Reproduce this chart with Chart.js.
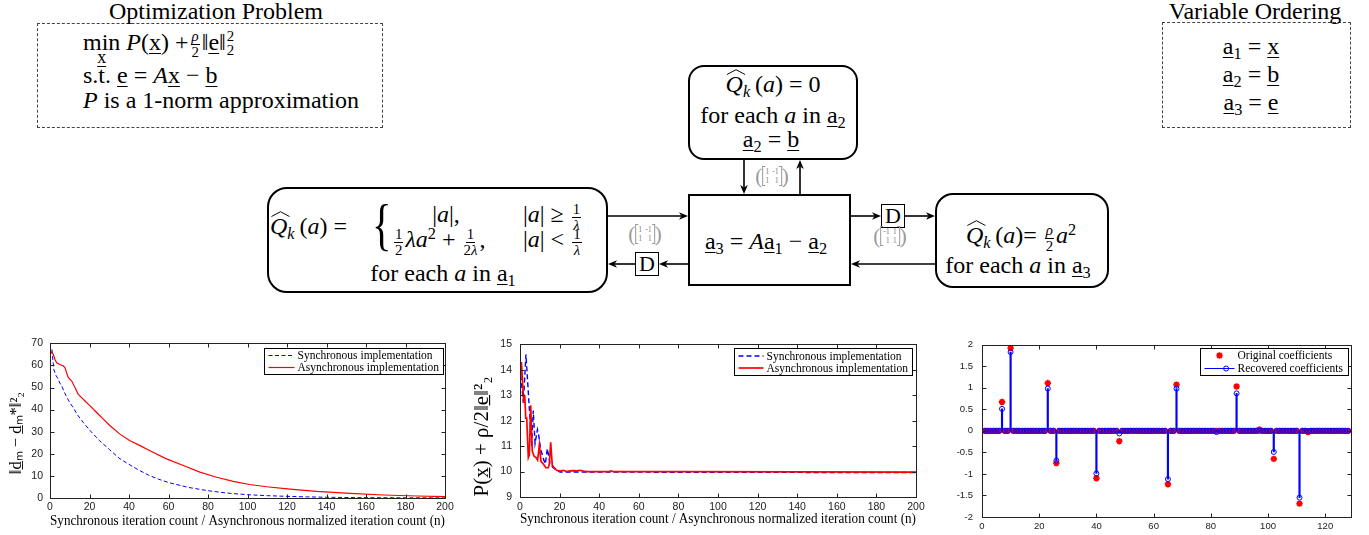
<!DOCTYPE html>
<html>
<head>
<meta charset="utf-8">
<title>Asynchronous ADMM diagram and results</title>
<script src="https://cdn.jsdelivr.net/npm/chart.js@4.4.1/dist/chart.umd.min.js"></script>
<style>
  html, body { margin: 0; padding: 0; background: #fff; }
  #fig { position: relative; width: 1369px; height: 535px; overflow: hidden;
         font-family: "Liberation Serif", "Times New Roman", serif; color: #000; }
  .t { position: absolute; white-space: nowrap; }
  .bl { display: inline-block; width: 0; height: 0; }
  .dash { position: absolute; box-sizing: border-box; border: 1px dashed #444; }
  .box { position: absolute; box-sizing: border-box; border: 2px solid #000; background: #fff; }
  .dbox { position: absolute; box-sizing: border-box; border: 1.5px solid #000; width: 24px; height: 24px;
          font-size: 22px; line-height: 21px; text-align: center; background: #fff; }
  u { text-decoration: underline; text-decoration-thickness: 1px; text-underline-offset: 3px; }
  sub { font-size: 68%; vertical-align: -0.3em; line-height: 0; }
  sup { font-size: 68%; vertical-align: 0.5em; line-height: 0; }
  .ss { display: inline-flex; flex-direction: column; font-size: 62%; line-height: 0.95; vertical-align: 0.6em; margin-left: 1px; }
  .fr { display: inline-flex; flex-direction: column; align-items: center; font-size: 62%; line-height: 1;
        vertical-align: 0.57em; margin: 0 2px; }
  .fr > span:first-child { border-bottom: 1px solid #000; padding: 0 1px; }
  .hat { position: relative; display: inline-block; }
  .hat::before { content: ""; position: absolute; left: 1px; right: -3px; top: -3px; height: 6px;
    background: url("data:image/svg+xml,%3Csvg xmlns='http://www.w3.org/2000/svg' viewBox='0 0 20 6' preserveAspectRatio='none'%3E%3Cpolyline points='0.5,5.5 10,0.7 19.5,5.5' fill='none' stroke='black' stroke-width='1'/%3E%3C/svg%3E") no-repeat;
    background-size: 100% 100%; }
  .mn { position: relative; display: inline-block; }
  .us { position: absolute; left: 50%; transform: translateX(-50%); top: 18px; font-size: 18px; line-height: 18px; }
  .mlab { position: absolute; color: #999; display: flex; align-items: center; transform: translate(-50%, -50%); }
  .mlab .p { font-size: 21px; line-height: 22px; font-weight: 300; }
  .mat { display: inline-grid; grid-template-columns: auto auto; column-gap: 3px; font-size: 8px; line-height: 9px;
         padding: 1px 3px; position: relative; text-align: right; color: #888; }
  .mat::before, .mat::after { content: ""; position: absolute; top: 0; bottom: 0; width: 2px; border: 0.8px solid #999; }
  .mat::before { left: 0; border-right: none; }
  .mat::after { right: 0; border-left: none; }
  canvas { position: absolute; top: 330px; }
  svg { position: absolute; left: 0; top: 0; }
</style>
</head>
<body>
<div id="fig">
  <div class="dash" style="left:37px;top:23px;width:346px;height:105px"></div>
  <div class="dash" style="left:1162px;top:22px;width:189px;height:106px"></div>
  <div class="box" style="left:688px;top:65px;width:170px;height:95px;border-radius:16px"></div>
  <div class="box" style="left:688px;top:194px;width:163px;height:92px;border-width:2.5px"></div>
  <div class="box" style="left:267px;top:187px;width:341px;height:106px;border-radius:20px"></div>
  <div class="box" style="left:935px;top:193px;width:174px;height:95px;border-radius:18px"></div>
  <svg id="arrows" width="1369" height="330"></svg>
  <div class="dbox" style="left:635px;top:252px">D</div>
  <div class="dbox" style="left:881px;top:204px">D</div>
  <canvas id="c1" width="460" height="205" style="left:0px"></canvas>
  <canvas id="c2" width="480" height="205" style="left:460px"></canvas>
  <canvas id="c3" width="429" height="205" style="left:940px"></canvas>
</div>
<script>
// ---- data ----
const iterTicks = [0, 20, 40, 60, 80, 100, 120, 140, 160, 180, 200];
const distTicks = [0, 10, 20, 30, 40, 50, 60, 70];
const costTicks = [9, 10, 11, 12, 13, 14, 15];
const coefTicksX = [0, 20, 40, 60, 80, 100, 120];
const coefTicksY = [-2, -1.5, -1, -0.5, 0, 0.5, 1, 1.5, 2];

const seriesNames = ['Synchronous implementation', 'Asynchronous implementation'];
const coefNames = ['Original coefficients', 'Recovered coefficients'];
const xTitle = 'Synchronous iteration count / Asynchronous normalized iteration count (n)';
// trailing spaces push the rotated label down a little, as in the original
const distTitle = '\u2016d\u0332\u2098 \u2212 d\u0332\u2098*\u2016\u00b2\u2082\u2003\u2002';
const costTitle = 'P(x\u0332) + \u03c1/2\u2016e\u0332\u2016\u00b2\u2082\u2003\u2002';

// left plot: squared distance to the optimum
const syncIterA = [1, 1.5, 2, 3, 4, 5, 6, 7, 8, 10, 12, 14, 17, 20, 25, 30, 35, 40, 45, 50,
                   55, 60, 70, 80, 90, 100, 110, 120, 130, 140, 150, 160, 180, 200];
const syncDist = [67.2, 62, 58, 55.5, 54, 52, 50.5, 48.5, 46.5, 43.2, 40.5, 37.5, 34, 30.8, 26, 22, 18, 15.2, 12.6, 10.3,
                  8.5, 7.0, 4.8, 3.3, 2.2, 1.5, 1.05, 0.75, 0.5, 0.35, 0.22, 0.15, 0.08, 0.04];
const asyncIterA = [0, 0.8, 1.7, 2.5, 3.4, 5, 6.8, 7.6, 8.4, 9.3, 11, 12.7, 14.3, 16, 17.7, 20.3, 23.6, 27, 30.4, 35.4,
                    40.5, 45.6, 50.6, 59, 67.5, 75.9, 84.4, 92.8, 101, 109.7, 121.5, 135, 152, 168.8, 185.7, 200];
const asyncDist = [67.9, 65.7, 65, 62.7, 61.2, 60.4, 59.7, 58.9, 56.7, 54.4, 52.9, 49.9, 46.9, 45.4, 43.9, 41.7, 38.7, 35.7, 32.7, 28.9,
                   25.9, 23.7, 21.4, 17.7, 14.7, 11.7, 9.4, 7.5, 6.1, 5.1, 4.0, 3.0, 2.1, 1.35, 0.9, 0.6];

// middle plot: objective value
const syncIterB = [0, 1.7, 3, 5.9, 6.7, 7.6, 8.8, 9.4, 10.4, 11.8, 12.8, 13.8, 15.2, 16.8, 18.5, 20.2, 40, 100, 200];
const syncCost = [14.1, 12.7, 14.6, 11.0, 12.4, 11.1, 11.65, 11.45, 10.9, 10.5, 10.3, 10.9, 10.3, 10.15, 10.05, 9.98, 9.98, 9.97, 9.96];
const asyncIterB = [0, 0.7, 1.3, 1.9, 2.4, 2.9, 3.4, 4.2, 4.7, 5.4, 6.2, 7.1, 8.1, 8.9, 9.8, 10.6, 11.8, 13.1, 14.3, 14.8,
                    15.5, 16.3, 17.3, 18.5, 20.2, 21.9, 23.6, 25.3, 27, 28.6, 30.3, 32, 33.7, 45, 46, 47, 80, 140, 200];
const asyncCost = [13.7, 14.3, 13.5, 12.7, 13.0, 12.1, 12.1, 10.55, 10.65, 12.6, 10.8, 10.6, 10.55, 10.45, 11.05, 10.4, 10.3, 10.15, 10.15, 10.3,
                   11.15, 10.25, 10.15, 10.05, 10.02, 10.05, 10.0, 10.03, 10.04, 10.03, 10.05, 10.02, 10.0, 10.0, 10.03, 10.0, 10.0, 9.99, 9.98];

// right plot: sparse coefficients (all other entries are zero)
const coefCount = 128;
const origIdx = [7, 10, 23, 26, 40, 48, 65, 68, 89, 97, 102, 111, 114];
const origVal = [0.67, 1.92, 1.11, -0.75, -1.1, -0.24, -1.24, 1.07, 1.03, 0.03, -0.65, -1.69, -0.03];
const recIdx = [7, 10, 23, 26, 40, 48, 65, 68, 82, 89, 102, 111];
const recVal = [0.51, 1.83, 0.98, -0.69, -0.99, -0.06, -1.12, 0.98, -0.03, 0.87, -0.49, -1.55];

// ---- diagram ----
const fig = document.getElementById('fig');

function put(html, x, base, size, align, extra) {
  const d = document.createElement('div');
  d.className = 't';
  d.style.fontSize = size + 'px';
  d.style.lineHeight = size + 'px';
  d.innerHTML = '<span class="bl"></span>' + html;
  fig.appendChild(d);
  const off = d.querySelector('.bl').offsetTop;
  d.style.left = x + 'px';
  d.style.top = (base - off) + 'px';
  let tf = align === 'c' ? 'translateX(-50%)' : '';
  if (extra) tf += ' ' + extra;
  d.style.transform = tf;
  return d;
}
function mlab(cx, cy, m) {
  const d = document.createElement('div');
  d.className = 'mlab';
  d.style.left = cx + 'px';
  d.style.top = cy + 'px';
  d.innerHTML = '<span class="p">(</span><span class="mat">' + m.map(v => '<span>' + v + '</span>').join('') +
                '</span><span class="p">)</span>';
  fig.appendChild(d);
}

const ul = s => '<u>' + s + '</u>';
const av = n => ul('a') + '<sub>' + n + '</sub>';
const fr = (n, d) => '<span class="fr"><span>' + n + '</span><span>' + d + '</span></span>';
const ss = '<span class="ss"><span>2</span><span>2</span></span>';
const Qk = '<span class="hat"><i>Q</i></span><sub><i>k</i></sub>&thinsp;(<i>a</i>)';

put('Optimization Problem', 216, 19, 24, 'c');
put('<span class="mn">min<span class="us">' + ul('x') + '</span></span> <i>P</i>(' + ul('x') + ') +' +
    fr('<i>ρ</i>', '2') + '‖' + ul('e') + '‖' + ss, 83, 50, 24);
put('s.t. ' + ul('e') + ' = <i>A</i>' + ul('x') + ' − ' + ul('b'), 83, 83, 24);
put('<i>P</i> is a 1-norm approximation', 83, 108, 24);

put('Variable Ordering', 1255, 19, 24, 'c');
put(av(1) + ' = ' + ul('x'), 1251, 54, 24, 'c');
put(av(2) + ' = ' + ul('b'), 1251, 82, 24, 'c');
put(av(3) + ' = ' + ul('e'), 1251, 110, 24, 'c');

put(Qk + ' = 0', 773, 92, 24, 'c');
put('for each <i>a</i> in ' + av(2), 773, 123, 24, 'c');
put(av(2) + ' = ' + ul('b'), 771, 147, 24, 'c');

put(av(3) + ' = <i>A</i>' + av(1) + ' − ' + av(2), 766, 249, 24, 'c');

put(Qk + ' =', 270, 234, 24);
const br = put('{', 372, 244, 58, null, 'scaleX(0.7)');
br.style.transformOrigin = 'left';
put('|<i>a</i>|,', 446, 222, 24, 'c');
put('|<i>a</i>| ≥ ' + fr('1', '<i>λ</i>'), 523, 222, 24);
put(fr('1', '2') + '<i>λa</i><sup>2</sup> + ' + fr('1', '2<i>λ</i>') + ',', 392, 247, 24);
put('|<i>a</i>| &lt; ' + fr('1', '<i>λ</i>'), 523, 247, 24);
put('for each <i>a</i> in ' + av(1), 443, 281, 24, 'c');

put(Qk + '= ' + fr('<i>ρ</i>', '2') + '<i>a</i><sup>2</sup>', 1021, 243, 24, 'c');
put('for each <i>a</i> in ' + av(3), 1018, 273, 24, 'c');

mlab(772, 176, ['1', '-1', '1', '1']);
mlab(645, 234, ['1', '-1', '1', '1']);
mlab(890, 236, ['-1', '1', '1', '1']);

const svg = document.getElementById('arrows');
const NS = 'http://www.w3.org/2000/svg';
function arrow(x1, y1, x2, y2) {
  const len = Math.hypot(x2 - x1, y2 - y1), ux = (x2 - x1) / len, uy = (y2 - y1) / len;
  const hl = 9, hw = 3.8, nb = 2.5;
  const bx = x2 - ux * (hl - nb), by = y2 - uy * (hl - nb);
  const ln = document.createElementNS(NS, 'line');
  ln.setAttribute('x1', x1); ln.setAttribute('y1', y1);
  ln.setAttribute('x2', bx); ln.setAttribute('y2', by);
  ln.setAttribute('stroke', '#000'); ln.setAttribute('stroke-width', '1.6');
  svg.appendChild(ln);
  const hx = x2 - ux * hl, hy = y2 - uy * hl;
  const pg = document.createElementNS(NS, 'polygon');
  pg.setAttribute('points', [[x2, y2], [hx - uy * hw, hy + ux * hw], [bx, by], [hx + uy * hw, hy - ux * hw]]
    .map(p => p.join(',')).join(' '));
  pg.setAttribute('fill', '#000');
  svg.appendChild(pg);
}
arrow(744, 160, 744, 194);
arrow(800, 194, 800, 160);
arrow(608, 216, 688, 216);
arrow(688, 264, 659, 264);
arrow(635, 264, 608, 264);
arrow(851, 216, 881, 216);
arrow(905, 216, 935, 216);
arrow(935, 264, 851, 264);

// ---- charts ----
const pts = (xs, ys) => xs.map((x, i) => ({ x: x, y: ys[i] }));
const fullSeries = (idx, val) => Array.from({ length: coefCount }, (_, k) => {
  const j = idx.indexOf(k + 1);
  return { x: k + 1, y: j < 0 ? 0 : val[j] };
});
const serif = '"Liberation Serif", serif';

// box with inward tick marks on all four sides, like the original plots
const framePlugin = {
  id: 'frame',
  afterDatasetsDraw(chart) {
    const { ctx, chartArea: a, scales } = chart;
    const L = 4;
    ctx.save();
    ctx.strokeStyle = '#222';
    ctx.lineWidth = 1;
    ctx.setLineDash([]);
    const l = Math.round(a.left) + 0.5, t = Math.round(a.top) + 0.5;
    const r = Math.round(a.right) + 0.5, b = Math.round(a.bottom) + 0.5;
    ctx.strokeRect(l, t, r - l, b - t);
    ctx.beginPath();
    scales.x.ticks.forEach(tk => {
      const p = Math.round(scales.x.getPixelForValue(tk.value)) + 0.5;
      ctx.moveTo(p, b); ctx.lineTo(p, b - L);
      ctx.moveTo(p, t); ctx.lineTo(p, t + L);
    });
    scales.y.ticks.forEach(tk => {
      const p = Math.round(scales.y.getPixelForValue(tk.value)) + 0.5;
      ctx.moveTo(l, p); ctx.lineTo(l + L, p);
      ctx.moveTo(r, p); ctx.lineTo(r - L, p);
    });
    ctx.stroke();
    ctx.restore();
  }
};

// legend drawn in a box inside the plot, top right
const boxLegend = {
  id: 'boxLegend',
  afterDraw(chart, args, o) {
    const ctx = chart.ctx, area = chart.chartArea;
    const items = chart.data.datasets.filter(d => d.label);
    ctx.save();
    ctx.font = o.font;
    const tw = Math.max(...items.map(d => ctx.measureText(d.label).width));
    const w = Math.round(o.padL + o.sample + o.gap + tw + o.padR);
    const h = o.rowH * items.length + 2 * o.padY;
    const x0 = Math.round(area.right - o.dx - w) + 0.5, y0 = Math.round(area.top + o.dy) + 0.5;
    ctx.fillStyle = '#fff';
    ctx.fillRect(x0, y0, w, h);
    ctx.strokeStyle = '#000';
    ctx.lineWidth = 1;
    ctx.setLineDash([]);
    ctx.strokeRect(x0, y0, w, h);
    items.forEach((d, i) => {
      const cy = y0 + o.padY + o.rowH * (i + 0.5);
      const sx = x0 + o.padL;
      if (!d.noLegendLine) {
        ctx.save();
        ctx.strokeStyle = d.borderColor;
        ctx.lineWidth = d.borderWidth || 1;
        ctx.setLineDash(d.borderDash || []);
        ctx.beginPath(); ctx.moveTo(sx, cy); ctx.lineTo(sx + o.sample, cy); ctx.stroke();
        ctx.restore();
      }
      if (d.legendMarkerAt != null) {
        ctx.save();
        ctx.strokeStyle = d.borderColor;
        ctx.fillStyle = d.backgroundColor;
        ctx.lineWidth = d.borderWidth;
        Chart.helpers.drawPoint(ctx, { pointStyle: d.pointStyle, radius: d.pointRadius, rotation: 0, borderWidth: d.borderWidth },
          sx + o.sample * d.legendMarkerAt, cy);
        ctx.restore();
      }
      ctx.fillStyle = '#000';
      ctx.textAlign = 'left';
      ctx.textBaseline = 'middle';
      ctx.fillText(d.label, sx + o.sample + o.gap, cy + 0.5);
    });
    ctx.restore();
  }
};

function linAxis(min, max, ticks, o) {
  return {
    type: 'linear', min: min, max: max, bounds: 'data', offset: false,
    grid: o.grid || { display: false, drawTicks: false },
    border: { display: false },
    afterBuildTicks: s => { s.ticks = ticks.map(v => ({ value: v })); },
    afterFit: s => { if (o.w != null) s.width = o.w; if (o.h != null) s.height = o.h; },
    ticks: { font: { family: '"Liberation Sans", Arial, sans-serif', size: o.tickSize || 10.5 }, color: '#1a1a1a',
             padding: o.pad, maxRotation: 0, autoSkip: false, callback: v => String(v) },
    title: o.title ? { display: true, text: o.title, font: { family: serif, size: o.titleSize }, color: '#000', padding: o.titlePad }
                   : { display: false }
  };
}

function baseOptions(pad, scales, legend) {
  return {
    responsive: false, animation: false, devicePixelRatio: 1, events: [],
    layout: { padding: pad },
    elements: { point: { radius: 0 }, line: { tension: 0 } },
    scales: scales,
    plugins: { legend: { display: false }, tooltip: { enabled: false }, boxLegend: legend }
  };
}

new Chart(document.getElementById('c1'), {
  type: 'line',
  data: { datasets: [
    { label: seriesNames[0], data: pts(syncIterA, syncDist), borderColor: '#0000ff', borderWidth: 1, borderDash: [4, 2.5], order: 1 },
    { label: seriesNames[1], data: pts(asyncIterA, asyncDist), borderColor: '#ff0000', borderWidth: 1.2, order: 0 }
  ] },
  options: baseOptions({ top: 12, right: 15, left: 0, bottom: 0 }, {
    x: linAxis(0, 200, iterTicks, { h: 37, pad: 3, title: xTitle, titleSize: 14.2, titlePad: { top: 0, bottom: 5.6 } }),
    y: linAxis(0, 70, distTicks, { w: 50, pad: 7, title: distTitle, titleSize: 16.5, titlePad: { top: 7, bottom: 0 } })
  }, { font: '11.5px ' + serif, dx: 2, dy: 5, padL: 4, sample: 26, gap: 3, padR: 5, rowH: 12, padY: 1 }),
  plugins: [framePlugin, boxLegend]
});

new Chart(document.getElementById('c2'), {
  type: 'line',
  data: { datasets: [
    { label: seriesNames[0], data: pts(syncIterB, syncCost), borderColor: '#0000ff', borderWidth: 1.4, borderDash: [5, 3], order: 1 },
    { label: seriesNames[1], data: pts(asyncIterB, asyncCost), borderColor: '#ff0000', borderWidth: 1.7, order: 0 }
  ] },
  options: baseOptions({ top: 12, right: 24, left: 0, bottom: 0 }, {
    x: linAxis(0, 200, iterTicks, { h: 38, pad: 4, title: xTitle, titleSize: 14.2, titlePad: { top: 0, bottom: 7.6 } }),
    y: linAxis(9, 15, costTicks, { w: 60, pad: 8, title: costTitle, titleSize: 21, titlePad: { top: 10, bottom: 0 } })
  }, { font: '11.5px ' + serif, dx: 4, dy: 4, padL: 4, sample: 25, gap: 3, padR: 5, rowH: 12, padY: 1.5 }),
  plugins: [framePlugin, boxLegend]
});

new Chart(document.getElementById('c3'), {
  type: 'scatter',
  data: { datasets: [
    { type: 'scatter', label: coefNames[0], data: fullSeries(origIdx, origVal), pointStyle: 'star', pointRadius: 3.2,
      borderColor: '#ff0000', backgroundColor: '#ff0000', borderWidth: 1.8, noLegendLine: true, legendMarkerAt: 0.5, order: 2 },
    { type: 'bar', data: fullSeries(recIdx, recVal), backgroundColor: '#0000ff', borderWidth: 0, barThickness: 1.5, order: 1 },
    { type: 'scatter', label: coefNames[1], data: fullSeries(recIdx, recVal), pointStyle: 'circle', pointRadius: 2.5,
      borderColor: '#0000ff', backgroundColor: 'rgba(0,0,0,0)', borderWidth: 1, legendMarkerAt: 0.72, order: 0 }
  ] },
  options: baseOptions({ top: 13, right: 18, left: 0, bottom: 0 }, {
    x: linAxis(0, 129, coefTicksX, { h: 18, pad: 4, tickSize: 9.5 }),
    y: linAxis(-2, 2, coefTicksY, { w: 42, pad: 9, tickSize: 9.5,
      grid: { display: true, drawOnChartArea: true, drawTicks: false, lineWidth: 1,
              color: c => (c.tick && c.tick.value === 0) ? '#000' : 'rgba(0,0,0,0)' } })
  }, { font: '11.5px ' + serif, dx: 3, dy: 3, padL: 4, sample: 30, gap: 3, padR: 6, rowH: 13, padY: 0.5 }),
  plugins: [framePlugin, boxLegend]
});
</script>
</body>
</html>
